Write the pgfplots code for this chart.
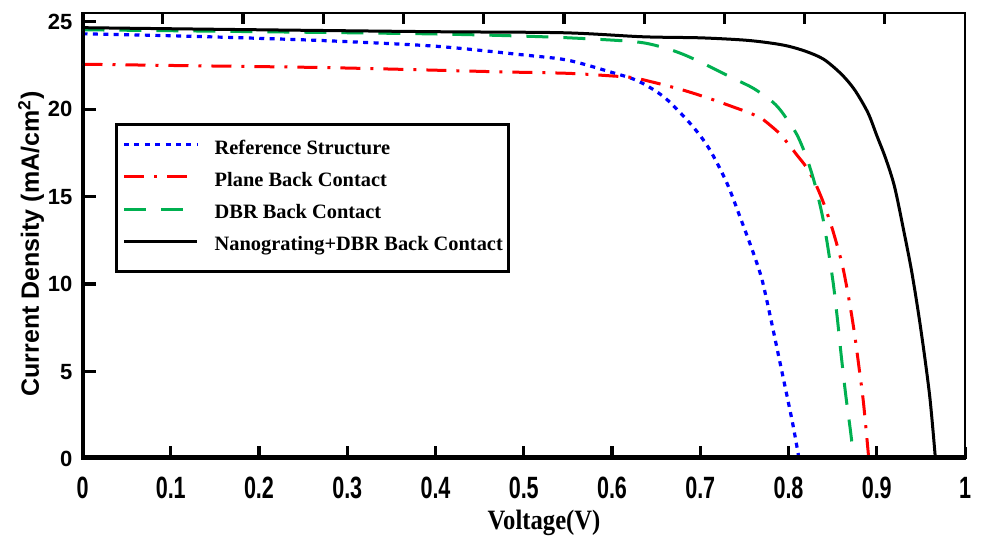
\documentclass[border=0pt]{standalone}
\usepackage{fontspec}
\setmainfont{Liberation Serif}
\setsansfont{Liberation Sans}
\newfontfamily\tickxfont[FakeStretch=0.7]{Liberation Sans}
\newfontfamily\xlabfont[FakeStretch=0.88]{Liberation Serif}
\usepackage{pgfplots}
\pgfplotsset{compat=1.18}
\definecolor{dbrgreen}{RGB}{0,176,80}

\begin{document}
\begin{tikzpicture}
\path[use as bounding box] (-41.25pt,-40pt) rectangle (449.25pt,229.5pt);
\begin{axis}[
  width=441.25pt, height=223pt, scale only axis,
  xmin=0, xmax=1, ymin=0, ymax=25.5,
  xtick={0,0.1,0.2,0.3,0.4,0.5,0.6,0.7,0.8,0.9,1},
  ytick={0,5,10,15,20,25},
  tick pos=left,
  tick align=inside,
  major tick length=6pt,
  tick style={black, line width=1.5pt},
  axis line style={line width=1.2pt},
  /pgf/number format/assume math mode=true,
  xticklabel style={font=\tickxfont\bfseries\fontsize{15.4pt}{17pt}\selectfont,
                    anchor=base, yshift=-20pt},
  yticklabel style={font=\sffamily\bfseries\fontsize{11pt}{13pt}\selectfont,
                    xshift=-1.5pt},
  xlabel={Voltage(V)},
  xlabel style={font=\xlabfont\bfseries\fontsize{14pt}{16pt}\selectfont,
                at={(axis description cs:0.523,0)}, anchor=base, yshift=-35.5pt},
  ylabel={Current Density (mA/cm\textsuperscript{2})},
  ylabel style={font=\sffamily\bfseries\fontsize{12.5pt}{14pt}\selectfont,
                at={(axis description cs:-0.0493,0.482)}, anchor=base},
  legend cell align=left,
  legend image code/.code={\draw[#1] (0pt,2.5pt) -- (36.5pt,2.5pt);},
  legend style={at={(0.0368,0.753)}, anchor=north west,
                draw=black, line width=1.5pt,
                font=\bfseries\fontsize{10.2pt}{12pt}\selectfont,
                inner xsep=3pt, inner ysep=7.75pt,
                row sep=6.6pt, column sep=8pt,
                nodes={inner sep=0pt, text height=7pt, text depth=2.5pt}},
]
% Reference Structure
\addplot[blue, line width=1.6pt, dash pattern=on 2.5pt off 2.7pt, smooth] coordinates {
  (0,24.31) (0.1,24.2) (0.2,24.05) (0.283,23.9) (0.4,23.6) (0.5,23.1)
  (0.55,22.8) (0.6,22.1) (0.63,21.6) (0.66,20.65) (0.69,19.1) (0.71,17.75)
  (0.73,15.8) (0.745,13.85) (0.76,11.8) (0.77,10.25) (0.78,8.0)
  (0.79,5.6) (0.80,3.2) (0.806,1.7) (0.812,0)
};
% Plane Back Contact
\addplot[red, line width=1.5pt, dash pattern=on 10pt off 5pt on 1.5pt off 5pt, smooth] coordinates {
  (0,22.57) (0.1,22.5) (0.283,22.37) (0.469,22.14) (0.55,22.05) (0.6,21.9)
  (0.624,21.8) (0.65,21.5) (0.68,21.1) (0.71,20.62) (0.74,20.08) (0.75,19.9)
  (0.76,19.7) (0.77,19.45) (0.78,19.05) (0.79,18.6) (0.80,18.0) (0.81,17.35)
  (0.82,16.7) (0.83,15.8) (0.84,14.6) (0.85,13.1) (0.86,11.3) (0.865,10.1)
  (0.87,8.7) (0.875,7.1) (0.88,5.2) (0.885,3.2) (0.891,0)
};
% DBR Back Contact
\addplot[dbrgreen, line width=1.5pt, dash pattern=on 11pt off 7.5pt, smooth] coordinates {
  (0,24.54) (0.2,24.43) (0.4,24.3) (0.522,24.14) (0.6,23.95) (0.635,23.8)
  (0.66,23.5) (0.68,23.15) (0.70,22.7) (0.72,22.2) (0.74,21.7) (0.76,21.2)
  (0.78,20.5) (0.79,20.0) (0.80,19.3) (0.81,18.5) (0.82,17.3) (0.83,15.7)
  (0.84,13.5) (0.85,10.3) (0.855,8.2) (0.86,5.8) (0.865,3.6) (0.87,1.7)
  (0.874,0)
};
% Nanograting+DBR Back Contact
\addplot[black, line width=1.5pt, smooth] coordinates {
  (0,24.66) (0.2,24.54) (0.4,24.43) (0.545,24.37) (0.635,24.14) (0.70,24.08)
  (0.75,23.95) (0.78,23.78) (0.80,23.6) (0.82,23.3) (0.84,22.85) (0.86,22.0)
  (0.875,21.1) (0.89,19.8) (0.90,18.5) (0.91,17.2) (0.92,15.6) (0.93,13.2)
  (0.94,10.6) (0.95,7.4) (0.96,3.6) (0.9665,0)
};
\legend{Reference Structure, Plane Back Contact, DBR Back Contact,
        Nanograting+DBR Back Contact}
% heavier left and bottom spines
\draw[line width=3pt] (rel axis cs:0,1) -- (rel axis cs:0,0);
\draw[line width=3.6pt] (rel axis cs:0,0) -- (rel axis cs:1,0);
% tick marks drawn by hand (bottom, left, and the 1/11-spaced top ones)
\pgfplotsinvokeforeach{0.1,0.2,0.3,0.4,0.5,0.6,0.7,0.8,0.9}{
  \draw[black, line width=1.6pt] (axis cs:#1,0) -- (axis cs:#1,0.75);
}
\pgfplotsinvokeforeach{5,10,15,20,25}{
  \draw[black, line width=1.6pt] (axis cs:0,#1) -- (axis cs:0.015,#1);
}
\pgfplotsinvokeforeach{0.0909,0.1818,0.2727,0.3636,0.4545,0.5455,0.6364,0.7273,0.8182,0.9091}{
  \draw[black, line width=1.6pt] (axis cs:#1,25.5) -- (axis cs:#1,24.85);
}
\end{axis}
\end{tikzpicture}
\end{document}
